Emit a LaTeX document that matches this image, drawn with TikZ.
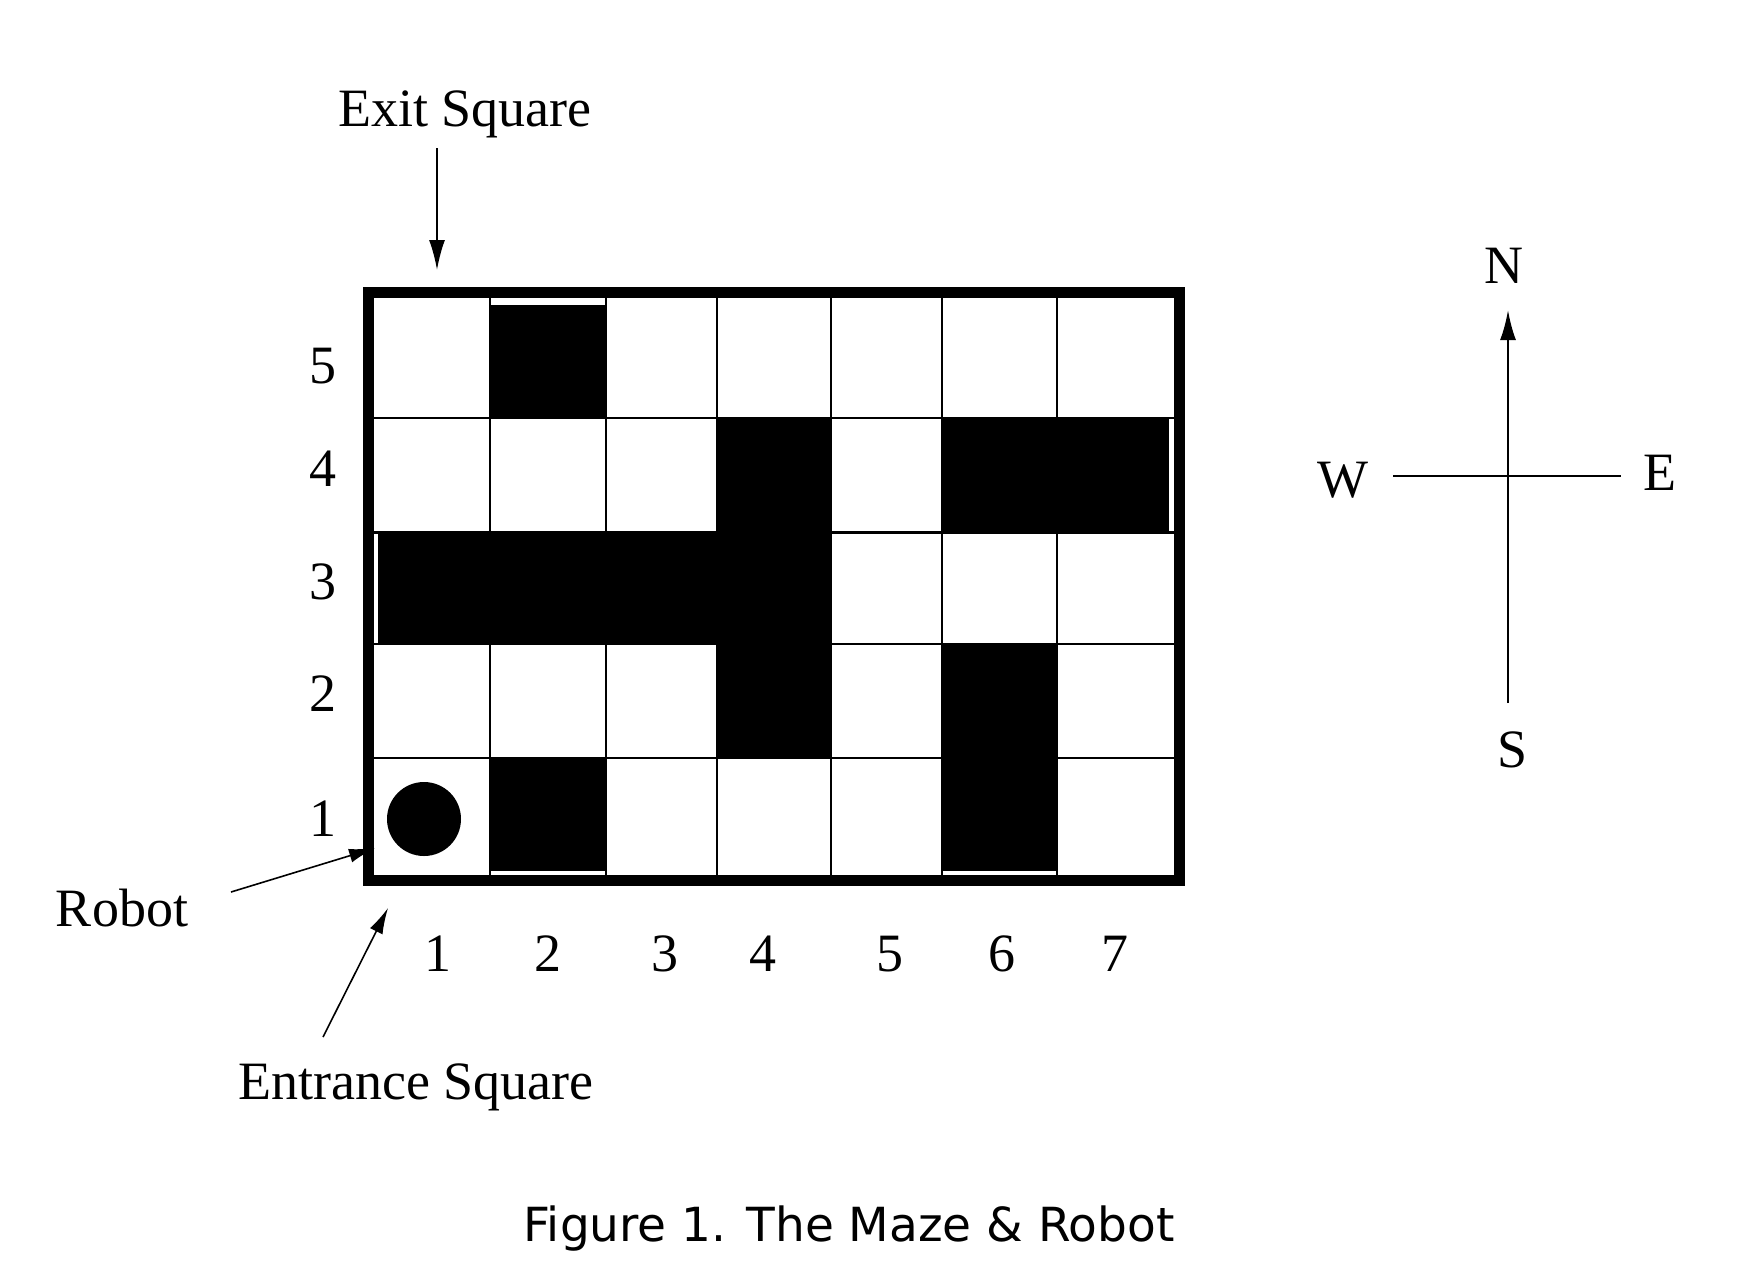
\documentclass[tikz,border=0pt]{standalone}
\usepackage{fontspec}
\setmainfont{Liberation Serif}
\newfontfamily\capfont{DejaVu Sans}
\usetikzlibrary{arrows.meta}
\begin{document}
\begin{tikzpicture}[x=0.5pt,y=-0.5pt,
  lbl/.style={anchor=base,inner sep=0pt,font=\fontsize{27}{30}\selectfont},
  gridline/.style={line width=1.2pt,black},
  wall/.style={fill=black},
  border/.style={line width=5.5pt,black},
  pointer/.style={line width=1pt,-{Latex[length=15pt,width=8pt]}},
  thinpointer/.style={line width=0.8pt,-{Latex[length=13pt,width=7pt]}},
  axis/.style={line width=1.2pt}
]
\fill[white] (0,0) rectangle (1764,1281);
\useasboundingbox (0,0) rectangle (1764,1281);

% grid lines
\foreach \gx in {490,606,717,831,942,1057} \draw[gridline] (\gx,292.5) -- (\gx,880.5);
\foreach \gy in {418,532.5,644,758} \draw[gridline] (368,\gy) -- (1179,\gy);

% walls (blocked squares)
\fill[wall] (490,305) rectangle (606,418);
\fill[wall] (717,418) rectangle (831,532.5);
\fill[wall] (942,418) rectangle (1169,532.5);
\fill[wall] (378,532.5) rectangle (831,644);
\fill[wall] (717,644) rectangle (831,758);
\fill[wall] (942,644) rectangle (1057,758);
\fill[wall] (490,758) rectangle (606,871);
\fill[wall] (942,758) rectangle (1057,871);

% outer border
\draw[border] (368,292.5) rectangle (1179,880.5);

% robot
\fill[black] (424,819) circle[radius=37];
\coordinate (robot) at (375,848);
\coordinate (entrance) at (388,908);

% row labels
\node[lbl] (r5) at (323,383) {5};
\node[lbl] (r4) at (323,486) {4};
\node[lbl] (r3) at (323,599) {3};
\node[lbl] (r2) at (323,711) {2};
\node[lbl] (r1) at (323,836) {1};

% column labels
\node[lbl] (c1) at (438,971) {1};
\node[lbl] (c2) at (548,971) {2};
\node[lbl] (c3) at (665,971) {3};
\node[lbl] (c4) at (763,971) {4};
\node[lbl] (c5) at (890,971) {5};
\node[lbl] (c6) at (1002,971) {6};
\node[lbl] (c7) at (1115,971) {7};

% annotations
\node[lbl] (exit) at (465,126) {Exit Square};
\coordinate (exitfrom) at (437,148);
\coordinate (exitto) at (437,270);
\draw[pointer] (exitfrom) -- (exitto);

\node[lbl] (robotlbl) at (122,926) {Robot};
\coordinate (robotfrom) at (231,892);
\draw[thinpointer] (robotfrom) -- (robot);

\node[lbl] (entlbl) at (416,1099) {Entrance Square};
\coordinate (entfrom) at (323,1037);
\draw[thinpointer] (entfrom) -- (entrance);

% compass
\coordinate (cs) at (1508,703);
\coordinate (cn) at (1508,310);
\coordinate (cw) at (1393,476);
\coordinate (ce) at (1621,476);
\draw[axis,-{Latex[length=15pt,width=8pt]}] (cs) -- (cn);
\draw[axis] (cw) -- (ce);
\node[lbl] (N) at (1504,283) {N};
\node[lbl] (W) at (1343,497) {W};
\node[lbl] (E) at (1660,490) {E};
\node[lbl] (S) at (1512,767) {S};

% caption
\node[anchor=base,inner sep=0pt,font=\capfont\fontsize{23.5}{28}\selectfont] (caption) at (849,1241) {Figure 1. The Maze \& Robot};
\end{tikzpicture}
\end{document}
